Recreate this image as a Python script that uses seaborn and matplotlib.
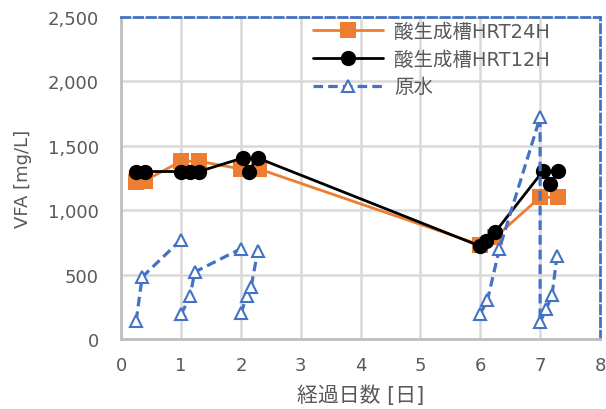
import numpy as np
import pandas as pd
import matplotlib
matplotlib.use("Agg")
import matplotlib.pyplot as plt
from matplotlib.lines import Line2D
from matplotlib.ticker import FuncFormatter
import seaborn as sns

# ---- data ----
hrt24_x = [0.25, 0.40, 1.00, 1.30, 2.00, 2.30, 6.00, 6.25, 7.00, 7.30]
hrt24_y = [1220, 1230, 1380, 1380, 1320, 1320, 730, 790, 1100, 1100]

hrt12_x = [0.25, 0.40, 1.00, 1.15, 1.30, 2.03, 2.13, 2.28, 6.00, 6.10, 6.25, 7.05, 7.17, 7.30]
hrt12_y = [1300, 1300, 1300, 1300, 1300, 1405, 1300, 1405, 720, 760, 830, 1305, 1200, 1305]

raw_x = [0.25, 0.35, 1.00,
         1.00, 1.15, 1.23, 2.00,
         2.00, 2.10, 2.17, 2.28,
         6.00, 6.12, 6.32, 7.00, 7.00, 7.10, 7.20, 7.28]
raw_y = [140, 480, 770,
         190, 330, 520, 700,
         200, 330, 400, 680,
         195, 300, 700, 1720, 130, 230, 340, 640]
raw_grp = [1, 1, 1,
           2, 2, 2, 2,
           3, 3, 3, 3,
           4, 4, 4, 4, 4, 4, 4, 4]

labels = ["酸生成槽HRT24H", "酸生成槽HRT12H", "原水"]
x_ticks = [0, 1, 2, 3, 4, 5, 6, 7, 8]
y_ticks = [0, 500, 1000, 1500, 2000, 2500]
x_label = "経過日数 [日]"
y_label = "VFA [mg/L]"

orange = "#ED7D31"
blue = "#4472C4"
gray_text = "#595959"
grid_col = "#D9D9D9"

sns.set_style("white")
plt.rcParams["font.family"] = ["DejaVu Sans", "Noto Sans CJK JP"]

fig = plt.figure(figsize=(6.06, 4.10), dpi=100)
ax = fig.add_axes([0.2, 0.171, 0.79, 0.785])

sns.lineplot(x=hrt24_x, y=hrt24_y, sort=False, estimator=None, ax=ax,
             color=orange, linewidth=2, marker="s", markersize=12,
             markeredgewidth=0, markeredgecolor=orange, legend=False, zorder=3)
sns.lineplot(x=hrt12_x, y=hrt12_y, sort=False, estimator=None, ax=ax,
             color="black", linewidth=2, marker="o", markersize=11,
             markeredgewidth=0, markeredgecolor="black", legend=False, zorder=4)

raw_df = pd.DataFrame({"x": raw_x, "y": raw_y, "grp": raw_grp})
sns.lineplot(data=raw_df, x="x", y="y", units="grp", estimator=None, sort=False,
             ax=ax, color=blue, linewidth=2.3, dashes=False, legend=False, zorder=5)
for ln in ax.lines[2:]:
    ln.set_linestyle((0, (3, 1.6)))
    ln.set_marker("^")
    ln.set_markersize(8)
    ln.set_markerfacecolor("white")
    ln.set_markeredgecolor(blue)
    ln.set_markeredgewidth(1.5)

ax.set_xlim(0, 8)
ax.set_ylim(0, 2500)
ax.set_xticks(x_ticks)
ax.set_yticks(y_ticks)
ax.yaxis.set_major_formatter(FuncFormatter(lambda v, p: f"{int(v):,}"))
ax.grid(True, color=grid_col, linewidth=1.8)
ax.set_axisbelow(True)
ax.tick_params(axis="both", length=0, labelsize=13, colors=gray_text)
ax.tick_params(axis="x", pad=12)
ax.tick_params(axis="y", pad=16)

for s in ["left", "bottom"]:
    ax.spines[s].set_color("#BFBFBF")
    ax.spines[s].set_linewidth(2)
    ax.spines[s].set_linestyle((0, (2, 1)))
for s in ["top", "right"]:
    ax.spines[s].set_color(blue)
    ax.spines[s].set_linewidth(2)
    ax.spines[s].set_linestyle((0, (3, 1.6)))
    ax.spines[s].set_visible(True)

ax.set_xlabel(x_label, fontsize=15, color=gray_text)
ax.set_ylabel(y_label, fontsize=13, color=gray_text)
ax.xaxis.label.set_va("center")
ax.xaxis.set_label_coords(0.5, -0.172)
ax.yaxis.label.set_va("center")
ax.yaxis.set_label_coords(-0.205, 0.5)

handles = [
    Line2D([], [], color=orange, lw=2, marker="s", markersize=12, markeredgewidth=0),
    Line2D([], [], color="black", lw=2, marker="o", markersize=11, markeredgewidth=0),
    Line2D([], [], color=blue, lw=2.3, linestyle=(0, (3, 1.6)), marker="^", markersize=8,
           markerfacecolor="white", markeredgecolor=blue, markeredgewidth=1.5),
]
leg = ax.legend(handles, labels, loc="upper left", bbox_to_anchor=(0.40, 0.985),
                frameon=False, fontsize=14, handlelength=3.6, handletextpad=0.6,
                labelspacing=0.45, borderpad=0, borderaxespad=0)
for t in leg.get_texts():
    t.set_color(gray_text)

fig.savefig("out.png", dpi=100)
